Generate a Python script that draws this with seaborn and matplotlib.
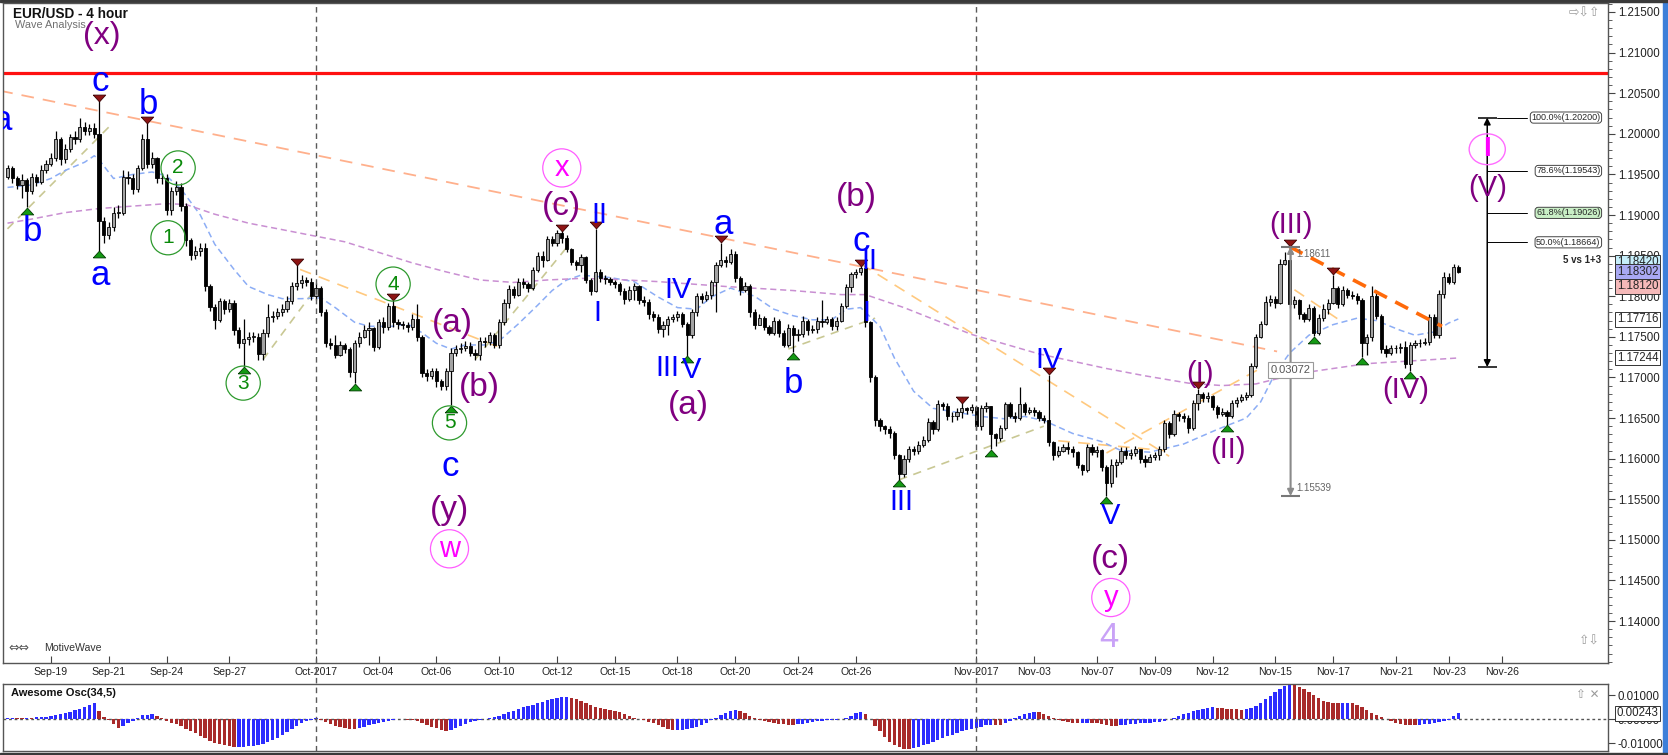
import numpy as np
import pandas as pd
import matplotlib
matplotlib.use("Agg")
import matplotlib.pyplot as plt
import matplotlib.transforms as mtransforms
from matplotlib.patches import Ellipse, Rectangle
from matplotlib.lines import Line2D
from matplotlib.ticker import MultipleLocator
import seaborn as sns

sns.set_theme(style="white")
plt.rcParams["font.family"] = ["Liberation Sans", "DejaVu Sans"]
plt.rcParams["axes.unicode_minus"] = False

# ---------------------------------------------------------------- data
# EUR/USD 4-hour candles (bar 0 = Mon 18 Sep 2017 ... bar 301 = Thu 23 Nov)
open_first = 1.1947
close = [
 1.1958, 1.1945, 1.1937, 1.1943, 1.1929, 1.1947, 1.1941, 1.1955, 1.1963, 1.1970,
 1.1994, 1.1969, 1.1981, 1.1996, 1.1993, 1.2009, 1.2003, 1.2007, 1.2000, 1.1893,
 1.1875, 1.1885, 1.1903, 1.1903, 1.1947, 1.1945, 1.1932, 1.1958, 1.1994, 1.1963,
 1.1970, 1.1945, 1.1946, 1.1906, 1.1929, 1.1934, 1.1911, 1.1869, 1.1851, 1.1856,
 1.1859, 1.1812, 1.1787, 1.1771, 1.1794, 1.1784, 1.1792, 1.1758, 1.1742, 1.1747,
 1.1750, 1.1750, 1.1729, 1.1755, 1.1774, 1.1776, 1.1781, 1.1784, 1.1794, 1.1812,
 1.1816, 1.1820, 1.1818, 1.1800, 1.1810, 1.1780, 1.1743, 1.1740, 1.1728, 1.1740,
 1.1735, 1.1707, 1.1743, 1.1750, 1.1758, 1.1761, 1.1737, 1.1768, 1.1762, 1.1788,
 1.1768, 1.1766, 1.1765, 1.1762, 1.1772, 1.1750, 1.1706, 1.1702, 1.1708, 1.1696,
 1.1690, 1.1708, 1.1730, 1.1735, 1.1736, 1.1739, 1.1730, 1.1728, 1.1745, 1.1744,
 1.1752, 1.1740, 1.1768, 1.1792, 1.1809, 1.1802, 1.1817, 1.1815, 1.1810, 1.1832,
 1.1850, 1.1845, 1.1870, 1.1866, 1.1878, 1.1872, 1.1858, 1.1842, 1.1838, 1.1848,
 1.1820, 1.1807, 1.1830, 1.1822, 1.1821, 1.1818, 1.1815, 1.1806, 1.1796, 1.1808,
 1.1812, 1.1795, 1.1793, 1.1778, 1.1775, 1.1760, 1.1765, 1.1772, 1.1774, 1.1778,
 1.1766, 1.1752, 1.1780, 1.1800, 1.1797, 1.1801, 1.1817, 1.1838, 1.1845, 1.1842,
 1.1852, 1.1822, 1.1808, 1.1812, 1.1780, 1.1765, 1.1773, 1.1762, 1.1755, 1.1770,
 1.1755, 1.1740, 1.1761, 1.1752, 1.1754, 1.1770, 1.1758, 1.1760, 1.1770, 1.1768,
 1.1772, 1.1763, 1.1770, 1.1788, 1.1811, 1.1827, 1.1830, 1.1835, 1.1768, 1.1700,
 1.1647, 1.1640, 1.1636, 1.1632, 1.1605, 1.1581, 1.1599, 1.1612, 1.1610, 1.1617,
 1.1623, 1.1645, 1.1636, 1.1667, 1.1665, 1.1653, 1.1652, 1.1658, 1.1662, 1.1660,
 1.1663, 1.1640, 1.1662, 1.1665, 1.1630, 1.1625, 1.1638, 1.1667, 1.1653, 1.1650,
 1.1667, 1.1657, 1.1660, 1.1658, 1.1650, 1.1648, 1.1620, 1.1605, 1.1610, 1.1614,
 1.1612, 1.1608, 1.1592, 1.1586, 1.1614, 1.1608, 1.1611, 1.1590, 1.1570, 1.1592,
 1.1596, 1.1610, 1.1605, 1.1607, 1.1612, 1.1600, 1.1596, 1.1602, 1.1604, 1.1612,
 1.1644, 1.1630, 1.1655, 1.1652, 1.1650, 1.1638, 1.1668, 1.1680, 1.1675, 1.1677,
 1.1664, 1.1655, 1.1658, 1.1653, 1.1668, 1.1672, 1.1676, 1.1678, 1.1714, 1.1750,
 1.1766, 1.1793, 1.1796, 1.1792, 1.1840, 1.1845, 1.1790, 1.1795, 1.1778, 1.1772,
 1.1786, 1.1755, 1.1773, 1.1784, 1.1792, 1.1810, 1.1790, 1.1808, 1.1802, 1.1800,
 1.1795, 1.1742, 1.1750, 1.1800, 1.1776, 1.1735, 1.1730, 1.1736, 1.1736, 1.1738,
 1.1716, 1.1740, 1.1742, 1.1743, 1.1744, 1.1774, 1.1752, 1.1803, 1.1824, 1.1818,
 1.1836, 1.1830]
high = [
 1.1962, 1.1960, 1.1948, 1.1950, 1.1946, 1.1952, 1.1950, 1.1962, 1.1968, 1.1976,
 1.2004, 1.1996, 1.1988, 1.2000, 1.2003, 1.2020, 1.2015, 1.2012, 1.2013, 1.2040,
 1.1897, 1.1892, 1.1910, 1.1912, 1.1955, 1.1954, 1.1950, 1.1962, 1.2000, 1.2013,
 1.1978, 1.1972, 1.1952, 1.1950, 1.1935, 1.1942, 1.1940, 1.1915, 1.1872, 1.1862,
 1.1866, 1.1866, 1.1815, 1.1790, 1.1798, 1.1796, 1.1796, 1.1795, 1.1762, 1.1772,
 1.1756, 1.1756, 1.1755, 1.1760, 1.1790, 1.1782, 1.1785, 1.1790, 1.1800, 1.1818,
 1.1838, 1.1826, 1.1824, 1.1822, 1.1816, 1.1812, 1.1784, 1.1748, 1.1752, 1.1745,
 1.1742, 1.1738, 1.1746, 1.1756, 1.1764, 1.1768, 1.1762, 1.1772, 1.1775, 1.1792,
 1.1795, 1.1772, 1.1770, 1.1768, 1.1778, 1.1790, 1.1752, 1.1710, 1.1712, 1.1712,
 1.1698, 1.1712, 1.1736, 1.1740, 1.1742, 1.1745, 1.1744, 1.1735, 1.1750, 1.1750,
 1.1756, 1.1755, 1.1772, 1.1796, 1.1814, 1.1812, 1.1822, 1.1822, 1.1818, 1.1836,
 1.1854, 1.1856, 1.1874, 1.1874, 1.1882, 1.1880, 1.1875, 1.1860, 1.1845, 1.1852,
 1.1850, 1.1822, 1.1883, 1.1834, 1.1826, 1.1824, 1.1820, 1.1818, 1.1810, 1.1812,
 1.1816, 1.1814, 1.1800, 1.1796, 1.1782, 1.1778, 1.1770, 1.1776, 1.1778, 1.1782,
 1.1780, 1.1768, 1.1784, 1.1804, 1.1804, 1.1806, 1.1820, 1.1842, 1.1866, 1.1850,
 1.1858, 1.1856, 1.1825, 1.1818, 1.1815, 1.1784, 1.1778, 1.1776, 1.1765, 1.1774,
 1.1772, 1.1758, 1.1766, 1.1765, 1.1760, 1.1776, 1.1772, 1.1764, 1.1775, 1.1795,
 1.1776, 1.1774, 1.1774, 1.1792, 1.1815, 1.1830, 1.1834, 1.1837, 1.1838, 1.1770,
 1.1703, 1.1650, 1.1642, 1.1640, 1.1634, 1.1606, 1.1604, 1.1616, 1.1616, 1.1622,
 1.1628, 1.1650, 1.1648, 1.1672, 1.1670, 1.1668, 1.1658, 1.1662, 1.1668, 1.1664,
 1.1667, 1.1665, 1.1666, 1.1670, 1.1665, 1.1632, 1.1642, 1.1670, 1.1670, 1.1658,
 1.1688, 1.1670, 1.1664, 1.1664, 1.1660, 1.1654, 1.1703, 1.1622, 1.1615, 1.1618,
 1.1620, 1.1616, 1.1610, 1.1594, 1.1618, 1.1618, 1.1615, 1.1612, 1.1592, 1.1600,
 1.1600, 1.1614, 1.1614, 1.1612, 1.1616, 1.1612, 1.1605, 1.1606, 1.1608, 1.1616,
 1.1648, 1.1646, 1.1660, 1.1658, 1.1656, 1.1654, 1.1672, 1.1686, 1.1682, 1.1682,
 1.1678, 1.1666, 1.1662, 1.1660, 1.1672, 1.1676, 1.1680, 1.1682, 1.1718, 1.1754,
 1.1770, 1.1800, 1.1802, 1.1800, 1.1846, 1.1855, 1.1861, 1.1800, 1.1796, 1.1780,
 1.1790, 1.1788, 1.1778, 1.1790, 1.1796, 1.1826, 1.1812, 1.1812, 1.1810, 1.1806,
 1.1804, 1.1798, 1.1754, 1.1812, 1.1808, 1.1778, 1.1740, 1.1740, 1.1740, 1.1742,
 1.1745, 1.1744, 1.1746, 1.1747, 1.1748, 1.1778, 1.1778, 1.1808, 1.1830, 1.1828,
 1.1840, 1.1839]
low = [
 1.1944, 1.1940, 1.1932, 1.1921, 1.1910, 1.1926, 1.1936, 1.1938, 1.1952, 1.1960,
 1.1966, 1.1962, 1.1964, 1.1978, 1.1988, 1.1990, 1.1998, 1.1998, 1.1995, 1.1856,
 1.1866, 1.1870, 1.1880, 1.1896, 1.1900, 1.1938, 1.1926, 1.1928, 1.1955, 1.1958,
 1.1958, 1.1940, 1.1938, 1.1900, 1.1900, 1.1925, 1.1905, 1.1862, 1.1845, 1.1846,
 1.1850, 1.1806, 1.1782, 1.1760, 1.1768, 1.1778, 1.1780, 1.1752, 1.1736, 1.1714,
 1.1740, 1.1744, 1.1722, 1.1722, 1.1750, 1.1768, 1.1772, 1.1776, 1.1780, 1.1790,
 1.1808, 1.1810, 1.1812, 1.1795, 1.1795, 1.1776, 1.1738, 1.1735, 1.1724, 1.1726,
 1.1730, 1.1700, 1.1693, 1.1738, 1.1748, 1.1740, 1.1732, 1.1735, 1.1755, 1.1758,
 1.1762, 1.1760, 1.1760, 1.1756, 1.1758, 1.1745, 1.1700, 1.1696, 1.1698, 1.1688,
 1.1684, 1.1684, 1.1666, 1.1726, 1.1730, 1.1732, 1.1726, 1.1722, 1.1722, 1.1738,
 1.1740, 1.1736, 1.1736, 1.1765, 1.1785, 1.1798, 1.1800, 1.1810, 1.1805, 1.1808,
 1.1830, 1.1836, 1.1843, 1.1862, 1.1862, 1.1866, 1.1854, 1.1838, 1.1832, 1.1830,
 1.1816, 1.1802, 1.1805, 1.1818, 1.1815, 1.1814, 1.1810, 1.1802, 1.1790, 1.1794,
 1.1795, 1.1790, 1.1788, 1.1772, 1.1770, 1.1755, 1.1750, 1.1752, 1.1768, 1.1770,
 1.1762, 1.1727, 1.1748, 1.1776, 1.1792, 1.1794, 1.1797, 1.1780, 1.1836, 1.1836,
 1.1840, 1.1818, 1.1802, 1.1805, 1.1775, 1.1760, 1.1765, 1.1758, 1.1752, 1.1752,
 1.1750, 1.1738, 1.1738, 1.1731, 1.1745, 1.1750, 1.1752, 1.1755, 1.1755, 1.1762,
 1.1766, 1.1758, 1.1758, 1.1768, 1.1785, 1.1805, 1.1822, 1.1826, 1.1762, 1.1695,
 1.1640, 1.1634, 1.1630, 1.1626, 1.1600, 1.1574, 1.1578, 1.1596, 1.1605, 1.1606,
 1.1614, 1.1620, 1.1630, 1.1634, 1.1660, 1.1648, 1.1645, 1.1648, 1.1650, 1.1655,
 1.1656, 1.1635, 1.1635, 1.1658, 1.1612, 1.1615, 1.1622, 1.1635, 1.1650, 1.1645,
 1.1648, 1.1654, 1.1655, 1.1652, 1.1646, 1.1644, 1.1616, 1.1598, 1.1602, 1.1608,
 1.1606, 1.1602, 1.1588, 1.1580, 1.1583, 1.1604, 1.1602, 1.1585, 1.1554, 1.1565,
 1.1578, 1.1594, 1.1600, 1.1600, 1.1603, 1.1595, 1.1590, 1.1596, 1.1598, 1.1598,
 1.1608, 1.1625, 1.1628, 1.1646, 1.1645, 1.1632, 1.1635, 1.1660, 1.1670, 1.1670,
 1.1660, 1.1650, 1.1652, 1.1642, 1.1650, 1.1664, 1.1670, 1.1672, 1.1676, 1.1712,
 1.1748, 1.1764, 1.1788, 1.1786, 1.1790, 1.1838, 1.1786, 1.1785, 1.1772, 1.1768,
 1.1770, 1.1751, 1.1752, 1.1770, 1.1778, 1.1790, 1.1785, 1.1788, 1.1798, 1.1796,
 1.1790, 1.1725, 1.1728, 1.1745, 1.1772, 1.1730, 1.1725, 1.1728, 1.1730, 1.1730,
 1.1712, 1.1708, 1.1736, 1.1738, 1.1740, 1.1740, 1.1748, 1.1748, 1.1798, 1.1815,
 1.1815, 1.1828]

# Awesome Oscillator (34,5), one value per candle, in units of 0.0001
ao_1e4 = [
 3, 5, 5, 5, 6, 6, 7, 8, 10, 14,
 18, 22, 26, 30, 36, 42, 50, 58, 66, 35,
 10, -5, -20, -38, -28, -15, -7, 5, 15, 18,
 19, 12, 4, -8, -15, -22, -30, -40, -50, -60,
 -70, -80, -90, -100, -106, -110, -114, -117, -116, -115,
 -114, -112, -110, -105, -97, -88, -78, -66, -54, -42,
 -30, -18, -9, -4, 3, -3, -12, -20, -28, -33,
 -36, -40, -43, -38, -32, -26, -20, -15, -11, -7,
 -4, 2, -2, -4, -6, -10, -16, -24, -32, -38,
 -44, -48, -45, -38, -30, -22, -14, -8, -3, 1,
 4, 8, 13, 20, 28, 35, 43, 50, 55, 60,
 65, 72, 78, 84, 88, 92, 93, 89, 82, 75,
 67, 58, 52, 47, 43, 39, 35, 28, 20, 12,
 6, 0, -5, -11, -18, -25, -32, -40, -47, -46,
 -44, -42, -38, -32, -25, -15, -6, 5, 16, 26,
 34, 38, 33, 24, 14, 4, -4, -9, -13, -16,
 -19, -21, -23, -24, -22, -19, -16, -13, -10, -8,
 -6, -5, -4, -2, 3, 12, 24, 31, 20, -2,
 -28, -52, -76, -95, -108, -118, -124, -126, -122, -116,
 -110, -103, -96, -88, -80, -72, -65, -58, -52, -47,
 -42, -37, -32, -27, -24, -25, -26, -18, -8, 3,
 13, 22, 27, 30, 28, 22, 12, 4, -4, -10,
 -14, -16, -17, -16, -15, -16, -18, -21, -25, -28,
 -29, -26, -23, -21, -19, -18, -17, -16, -14, -11,
 -7, -2, 5, 12, 20, 26, 32, 38, 43, 47,
 49, 46, 44, 42, 41, 40, 39, 41, 46, 55,
 68, 82, 97, 113, 127, 138, 142, 140, 134, 124,
 112, 100, 88, 77, 70, 66, 65, 66, 67, 66,
 60, 50, 38, 26, 16, 7, -2, -10, -16, -21,
 -24, -26, -27, -24, -22, -19, -15, -12, -8, -3,
 11, 24]

# moving averages read at selected bars
blue_ma_bars = [0, 5, 9, 12, 16, 18, 19, 22, 26, 30, 33, 36, 40, 43, 47, 50, 54, 57, 61, 65,
                68, 72, 75, 80, 83, 86, 89, 92, 95, 99, 102, 106, 110, 113, 116, 119, 125, 130, 135, 139,
                143, 146, 150, 155, 159, 163, 167, 171, 174, 177, 181, 184, 188, 192, 197, 202, 207, 211, 215, 221,
                227, 231, 237, 244, 251, 257, 260, 263, 266, 270, 275, 280, 284, 289, 292, 296, 299, 301]
blue_ma_vals = [1.1934, 1.1937, 1.1945, 1.1955, 1.1965, 1.1973, 1.1968, 1.1945, 1.1950, 1.1953,
                1.1948, 1.1932, 1.1900, 1.1864, 1.1833, 1.1812, 1.1802, 1.1797, 1.1797, 1.1798,
                1.1786, 1.1768, 1.1763, 1.1763, 1.1766, 1.1755, 1.1742, 1.1735, 1.1740, 1.1740,
                1.1745, 1.1766, 1.1789, 1.1807, 1.1820, 1.1826, 1.1823, 1.1818, 1.1799, 1.1786,
                1.1784, 1.1799, 1.1810, 1.1800, 1.1784, 1.1776, 1.1771, 1.1771, 1.1784, 1.1786,
                1.1763, 1.1724, 1.1683, 1.1662, 1.1657, 1.1652, 1.1649, 1.1652, 1.1647, 1.1631,
                1.1621, 1.1610, 1.1608, 1.1618, 1.1636, 1.1650, 1.1670, 1.1705, 1.1730, 1.1752,
                1.1765, 1.1773, 1.1770, 1.1758, 1.1752, 1.1756, 1.1767, 1.1772]
purple_ma_bars = [0, 5, 12, 19, 26, 33, 37, 43, 50, 57, 63, 70, 77, 84, 91, 98, 105, 112, 119, 125,
                  135, 149, 163, 173, 178, 186, 200, 214, 228, 236, 245, 252, 259, 268, 282, 293, 301]
purple_ma_vals = [1.1890, 1.1895, 1.1903, 1.1908, 1.1911, 1.1914, 1.1913, 1.1901, 1.1890, 1.1882,
                  1.1875, 1.1867, 1.1854, 1.1841, 1.1830, 1.1820, 1.1817, 1.1820, 1.1822, 1.1821,
                  1.1818, 1.1812, 1.1807, 1.1802, 1.1802, 1.1786, 1.1753, 1.1729, 1.1711, 1.1702,
                  1.1693, 1.1690, 1.1692, 1.1705, 1.1717, 1.1721, 1.1724]

tick_labels = ["Sep-19", "Sep-21", "Sep-24", "Sep-27", "Oct-2017", "Oct-04", "Oct-06", "Oct-10",
               "Oct-12", "Oct-15", "Oct-18", "Oct-20", "Oct-24", "Oct-26", "Nov-2017", "Nov-03",
               "Nov-07", "Nov-09", "Nov-12", "Nov-15", "Nov-17", "Nov-21", "Nov-23", "Nov-26"]
tick_bars = [9, 21, 33, 46, 64, 77, 89, 102, 114, 126, 139, 151, 164, 176, 201, 213,
             226, 238, 250, 263, 275, 288, 299, 310]
month_start_bars = [64, 201]

peak_bars = [19, 29, 60, 80, 115, 122, 148, 177, 198, 216, 247, 266, 275]
trough_bars = [4, 19, 49, 72, 92, 141, 163, 185, 204, 228, 253, 271, 281, 291]

resistance_level = 1.2075
wave3_top, wave3_bottom = 1.18611, 1.15539
fib_top, fib_bottom = 1.20200, 1.17128
fib_ratios = [1.0, 0.786, 0.618, 0.5]
fib_names = ["100.0%", "78.6%", "61.8%", "50.0%"]

# trend lines: (bar, price) pairs
salmon_lines = [((-1.5, 1.2053), (263.4, 1.1732))]
orange_lines = [((60.7, 1.1833), (103, 1.1735)), ((177, 1.1840), (241, 1.1603)),
                ((228, 1.1607), (260.5, 1.1713)), ((267, 1.1808), (276, 1.1772)),
                ((218, 1.1622), (240, 1.1610))]
olive_lines = [((0, 1.1883), (21.3, 1.2010)), ((53, 1.1722), (63, 1.1802)),
               ((97, 1.1722), (116, 1.1860)), ((162, 1.1735), (180, 1.1773)),
               ((185, 1.1574), (215, 1.1640))]
wedge_line = ((266, 1.1861), (297.6, 1.1763))

BLUE, PURPLE, MAGENTA, GREEN, LAV = "#0000ff", "#800080", "#ff00ff", "#0a8a0a", "#c9a2f7"
wave_labels = [
    ("(x)", 19.5, 1.2120, PURPLE, 23), ("a", -1.2, 1.2017, BLUE, 25),
    ("c", 19.2, 1.2064, BLUE, 25), ("b", 29.2, 1.2036, BLUE, 25),
    ("b", 5.2, 1.1880, BLUE, 25), ("a", 19.2, 1.1825, BLUE, 25),
    ("(a)", 92.2, 1.1766, PURPLE, 24), ("(b)", 98.0, 1.1688, PURPLE, 24),
    ("c", 91.8, 1.1590, BLUE, 25), ("(y)", 91.8, 1.1536, PURPLE, 24),
    ("(c)", 115.0, 1.1911, PURPLE, 24), ("II", 122.8, 1.1900, BLUE, 21),
    ("I", 122.4, 1.1779, BLUE, 21), ("IV", 139.2, 1.1808, BLUE, 21),
    ("III", 136.8, 1.1712, BLUE, 21), ("V", 142.0, 1.1709, BLUE, 21),
    ("(a)", 141.2, 1.1665, PURPLE, 24), ("a", 148.4, 1.1888, BLUE, 25),
    ("b", 163.0, 1.1693, BLUE, 25), ("(b)", 176.2, 1.1922, PURPLE, 24),
    ("c", 177.2, 1.1867, BLUE, 25), ("II", 178.8, 1.1843, BLUE, 21),
    ("I", 178.1, 1.1779, BLUE, 21), ("III", 185.4, 1.1547, BLUE, 21),
    ("IV", 216.0, 1.1722, BLUE, 21), ("V", 228.8, 1.1530, BLUE, 21),
    ("(c)", 228.8, 1.1476, PURPLE, 24), ("4", 228.6, 1.1380, LAV, 25),
    ("(I)", 247.4, 1.1704, PURPLE, 21), ("(II)", 253.3, 1.1611, PURPLE, 21),
    ("(III)", 266.2, 1.1888, PURPLE, 21), ("(IV)", 290.0, 1.1685, PURPLE, 21),
    ("(V)", 307.0, 1.1933, PURPLE, 21)]
circled_labels = [
    ("2", 35.4, 1.1958, GREEN), ("1", 33.3, 1.1872, GREEN), ("3", 48.9, 1.1693, GREEN),
    ("4", 80.0, 1.1815, GREEN), ("5", 91.7, 1.1644, GREEN), ("w", 91.7, 1.1489, MAGENTA),
    ("x", 115.0, 1.1958, MAGENTA), ("y", 228.9, 1.1429, MAGENTA)]

axis_boxes = [(1.18420, "1.18420", "#c6eefa"), (1.18302, "1.18302", "#a9a9f3"),
              (1.18120, "1.18120", "#f5b9b9"), (1.17716, "1.17716", "white"),
              (1.17244, "1.17244", "white")]
ao_last = 0.00243

# ---------------------------------------------------------------- layout
W, H = 1668, 755
fig = plt.figure(figsize=(W / 100, H / 100), dpi=100)
fig.patch.set_facecolor("white")

def rect(x0, y0, x1, y1):
    return [x0 / W, 1 - y1 / H, (x1 - x0) / W, (y1 - y0) / H]

ax = fig.add_axes(rect(3, 3, 1608, 663))
ax2 = fig.add_axes(rect(3, 684, 1608, 751))
XLIM = ((3 - 7.5) / 4.82, (1608 - 7.5) / 4.82)
YLIM = (1.215 - (663 - 12) / 8121, 1.215 + (12 - 3) / 8121)

close = np.array(close); high = np.array(high); low = np.array(low)
n = len(close)
assert n == len(high) == len(low) == len(ao_1e4)
bars = np.arange(n)
opens = np.concatenate([[open_first], close[:-1]])
rising = close >= opens
body_lo = np.minimum(opens, close)
body_h = np.maximum(np.abs(close - opens), 0.00005)

# month separators across the whole chart
blend_fig = mtransforms.blended_transform_factory(ax.transData, fig.transFigure)
ax.set_xlim(*XLIM)
for b in month_start_bars:
    fig.add_artist(Line2D([b, b], [1 - 751 / H, 1 - 3 / H], transform=blend_fig,
                          color="#5a5a5a", lw=1.0, ls=(0, (4, 3)), zorder=1))

ax.axhline(resistance_level, color="#ff1010", lw=2.3, zorder=2)

for (x0, y0), (x1, y1) in salmon_lines:
    ax.plot([x0, x1], [y0, y1], color="#ffb08c", lw=1.3, ls=(0, (7, 5)), zorder=2)
for (x0, y0), (x1, y1) in orange_lines:
    ax.plot([x0, x1], [y0, y1], color="#ffc97f", lw=1.2, ls=(0, (7, 5)), zorder=2)
for (x0, y0), (x1, y1) in olive_lines:
    ax.plot([x0, x1], [y0, y1], color="#c9c894", lw=1.2, ls=(0, (5, 4)), zorder=2)

blue_df = pd.DataFrame({"bar": blue_ma_bars, "price": blue_ma_vals})
purple_df = pd.DataFrame({"bar": purple_ma_bars, "price": purple_ma_vals})
sns.lineplot(data=blue_df, x="bar", y="price", ax=ax, color="#8cadf5", lw=1.1,
             linestyle=(0, (4, 2.5)), zorder=2, legend=False)
sns.lineplot(data=purple_df, x="bar", y="price", ax=ax, color="#c98fd2", lw=1.1,
             linestyle=(0, (4, 2.5)), zorder=2, legend=False)

# candles
ax.vlines(bars, low, high, color="black", lw=0.9, zorder=3)
ax.bar(bars[rising], body_h[rising], bottom=body_lo[rising], width=0.66,
       color="#a3a3a3", edgecolor="black", linewidth=0.6, zorder=4)
ax.bar(bars[~rising], body_h[~rising], bottom=body_lo[~rising], width=0.66,
       color="black", edgecolor="black", linewidth=0.6, zorder=4)

ax.plot([wedge_line[0][0], wedge_line[1][0]], [wedge_line[0][1], wedge_line[1][1]],
        color="#ff6a0a", lw=2.6, ls=(0, (4, 2.6)), zorder=5)

# swing markers
down_tri = [(-1, 0.55), (1, 0.55), (0, -0.55), (-1, 0.55)]
up_tri = [(-1, -0.55), (1, -0.55), (0, 0.55), (-1, -0.55)]
ax.scatter(peak_bars, high[peak_bars] + 0.00045, marker=down_tri, s=80,
           color="#8e1414", edgecolors="#3a0000", linewidths=0.6, zorder=6)
ax.scatter(trough_bars, low[trough_bars] - 0.00045, marker=up_tri, s=80,
           color="#149a14", edgecolors="#003a00", linewidths=0.6, zorder=6)

# wave labels
for txt, bx, py, col, fs in wave_labels:
    ax.text(bx, py, txt, color=col, fontsize=fs, ha="center", va="center",
            zorder=7, clip_on=True)
for txt, bx, py, col in circled_labels:
    big = col == MAGENTA
    ax.add_patch(Ellipse((bx, py), width=(7.9 if big else 7.1), height=(0.0047 if big else 0.0042),
                         fill=False, ec=("#ff5cff" if big else "#2e9a2e"), lw=0.9, zorder=7))
    ax.text(bx, py, txt, color=col, fontsize=(21 if big else 15), ha="center", va="center", zorder=7)
# pink circled I above (V)
ax.add_patch(Ellipse((307.0, 1.1981), width=7.5, height=0.0038, fill=False,
                     ec="#ff6cff", lw=1.0, zorder=7))
ax.text(307.0, 1.1981, "I", color=MAGENTA, fontsize=20, fontweight="bold",
        ha="center", va="center", zorder=7)

# wave III measurement
xm = 266.2
ax.annotate("", xy=(xm, wave3_top), xytext=(xm, wave3_bottom),
            arrowprops=dict(arrowstyle="<|-|>", color="#8a8a8a", lw=1.5,
                            mutation_scale=9, shrinkA=0, shrinkB=0), zorder=6)
ax.hlines([wave3_top, wave3_bottom], xm - 2, xm + 2, color="#777777", lw=1.5, zorder=6)
ax.text(xm + 1.2, wave3_top - 0.0009, f"{wave3_top:.5f}", fontsize=7, color="#666666",
        va="center", ha="left", zorder=6)
ax.text(xm + 1.2, wave3_bottom + 0.0010, f"{wave3_bottom:.5f}", fontsize=7, color="#666666",
        va="center", ha="left", zorder=6)
ax.text(xm, 1.1709, f"{wave3_top - wave3_bottom:.5f}", fontsize=8, color="#555555",
        ha="center", va="center", zorder=8,
        bbox=dict(boxstyle="square,pad=0.25", fc="white", ec="#9a9a9a", lw=0.8))

# fibonacci projection tool
xf = 307.0
ax.annotate("", xy=(xf, fib_top), xytext=(xf, fib_bottom),
            arrowprops=dict(arrowstyle="<|-|>", color="black", lw=1.1,
                            mutation_scale=10, shrinkA=0, shrinkB=0), zorder=6)
ax.hlines([fib_top, fib_bottom], xf - 2, xf + 2, color="black", lw=1.1, zorder=6)
for ratio, name in zip(fib_ratios, fib_names):
    lvl = fib_bottom + ratio * (fib_top - fib_bottom)
    x_start = xf + 2 if ratio == 1.0 else xf
    ax.plot([x_start, 315.3], [lvl, lvl], color="black", lw=0.7, zorder=6)
    ax.text(330.5, lvl, f"{name}({lvl:.5f})", fontsize=6.5, ha="right", va="center", zorder=8,
            bbox=dict(boxstyle="round,pad=0.12,rounding_size=0.35",
                      fc=("#c9efc6" if ratio == 0.618 else "white"), ec="#444444", lw=0.7))
ax.text(330.7, 1.18445, "5 vs 1+3", fontsize=7, fontweight="bold", ha="right", va="center", zorder=8)

# axes formatting (main)
ax.set_xlim(*XLIM)
ax.set_ylim(*YLIM)
ax.set_xlabel(""); ax.set_ylabel("")
ax.grid(False)
ax.set_xticks(tick_bars)
ax.set_xticklabels(tick_labels, fontsize=7.6, color="#222222")
ax.tick_params(axis="x", bottom=True, direction="in", length=5, width=0.8, color="#444444", pad=3)
ax.yaxis.tick_right()
yt = np.round(np.arange(1.140, 1.2151, 0.005), 3)
ax.set_yticks(yt)
ax.set_yticklabels([f"{v:.5f}" for v in yt], fontsize=8.3, color="#222222")
ax.yaxis.set_minor_locator(MultipleLocator(0.001))
ax.tick_params(axis="y", which="major", right=True, left=False, direction="out",
               length=5, width=0.8, color="#444444", pad=2)
ax.tick_params(axis="y", which="minor", right=True, left=False, direction="out",
               length=3, width=0.6, color="#444444")
for side, sp in ax.spines.items():
    sp.set_color("#555555"); sp.set_linewidth(1.0)

blend_ax = mtransforms.blended_transform_factory(ax.transAxes, ax.transData)
for val, txt, fc in axis_boxes:
    ax.text(1.0055, val, txt, transform=blend_ax, fontsize=8.3, va="center", ha="left",
            clip_on=False, zorder=10,
            bbox=dict(boxstyle="square,pad=0.12", fc=fc, ec="#333333", lw=0.7))

ax.text(10 / 1605, 1 - 11 / 660, "EUR/USD - 4 hour", transform=ax.transAxes,
        fontsize=9.8, fontweight="bold", va="center", ha="left", color="#111111", zorder=9)
ax.text(12 / 1605, 1 - 22 / 660, "Wave Analysis", transform=ax.transAxes,
        fontsize=7.8, va="center", ha="left", color="#707070", zorder=9)
ax.text(5 / 1605, 15 / 660, "\u21d4\u21d4", transform=ax.transAxes,
        fontsize=9, va="center", ha="left", color="#555555",
        family=["DejaVu Sans"], zorder=9)
ax.text(41 / 1605, 15 / 660, "MotiveWave", transform=ax.transAxes,
        fontsize=7.6, va="center", ha="left", color="#333333", zorder=9)
ax.text(0.995, 1 - 10 / 660, "\u21e8\u21e9\u21e7", transform=ax.transAxes, fontsize=9,
        va="center", ha="right", color="#9a9a9a", family=["DejaVu Sans"], zorder=9)
ax.text(0.995, 22 / 660, "\u21e7\u21e9", transform=ax.transAxes, fontsize=9,
        va="center", ha="right", color="#9a9a9a", family=["DejaVu Sans"], zorder=9)

# ---------------------------------------------------------------- oscillator
ao = np.array(ao_1e4) * 1e-4
ao_up = np.concatenate([[True], ao[1:] > ao[:-1]])
ax2.bar(bars, ao, width=0.7, color=np.where(ao_up, "#2c2cff", "#a82a2a"), linewidth=0, zorder=3)
ax2.axhline(0, color="#555555", lw=1.0, ls=(0, (2, 2)), zorder=2)
ax2.set_xlim(*XLIM)
ax2.set_ylim(-(751 - 719) / 2400, (719 - 684) / 2400)
ax2.grid(False)
ax2.tick_params(axis="x", bottom=False, labelbottom=False)
ax2.yaxis.tick_right()
ax2.set_yticks([0.01, 0.0, -0.01])
ax2.set_yticklabels(["0.01000", "0.00000", "-0.01000"], fontsize=8.3, color="#222222")
ax2.tick_params(axis="y", right=True, left=False, direction="out", length=5, width=0.8,
                color="#444444", pad=2)
for side, sp in ax2.spines.items():
    sp.set_color("#555555"); sp.set_linewidth(1.0)
ax2.text(8 / 1605, 0.86, "Awesome Osc(34,5)", transform=ax2.transAxes, fontsize=8,
         fontweight="bold", va="center", ha="left", color="#111111")
blend_ax2 = mtransforms.blended_transform_factory(ax2.transAxes, ax2.transData)
ax2.text(1.0055, ao_last, f"{ao_last:.5f}", transform=blend_ax2, fontsize=8.3, va="center",
         ha="left", clip_on=False, zorder=10,
         bbox=dict(boxstyle="square,pad=0.12", fc="white", ec="#333333", lw=0.7))
ax2.text(0.995, 0.85, "\u21e7 \u2715", transform=ax2.transAxes, fontsize=8.5, va="center",
         ha="right", color="#9a9a9a", family=["DejaVu Sans"])

# frame decorations
fig.add_artist(Rectangle((1663 / W, 0), 5 / W, 1, transform=fig.transFigure,
                         color="#3d7fd9", zorder=0))
fig.add_artist(Rectangle((0, 1 - 2 / H), 1, 2 / H, transform=fig.transFigure,
                         color="#3a3a3a", zorder=0))
fig.add_artist(Rectangle((0, 0), 1, 2 / H, transform=fig.transFigure,
                         color="#3a3a3a", zorder=0))

fig.savefig("out.png", dpi=100)
